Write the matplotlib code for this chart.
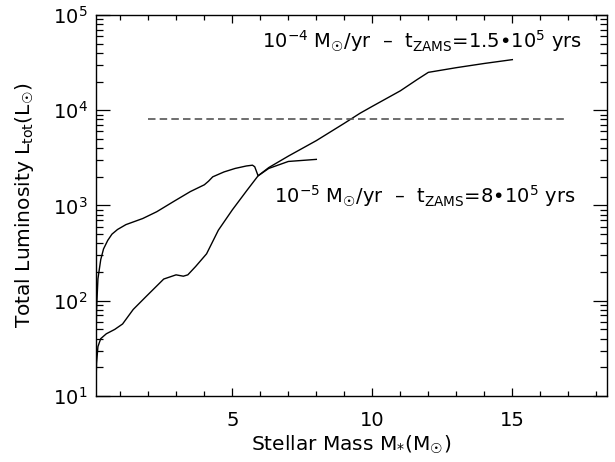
import matplotlib
matplotlib.use("Agg")
import matplotlib.pyplot as plt
from matplotlib.ticker import LogLocator, MultipleLocator, FixedLocator, NullFormatter

# track for 1e-4 Msun/yr (ends at 15 Msun)
mass_hi = [0.12, 0.13, 0.15, 0.2, 0.3, 0.4, 0.55, 0.7, 0.9, 1.2, 1.8, 2.3, 2.9,
           3.5, 4.0, 4.15, 4.3, 4.7, 5.1, 5.5, 5.72, 5.8, 5.92, 6.3, 7.0, 8.0,
           9.0, 9.56, 10.0, 11.0, 11.6, 12.0, 13.0, 14.0, 15.0]
lum_hi = [10, 30, 80, 170, 270, 350, 430, 500, 560, 630, 730, 860, 1100,
          1400, 1650, 1800, 2000, 2250, 2450, 2600, 2650, 2550, 2050, 2500, 3300, 4800,
          7300, 9300, 11000, 16000, 21000, 25000, 28000, 31000, 34000]

# track for 1e-5 Msun/yr (ends at 8 Msun)
mass_lo = [0.12, 0.15, 0.2, 0.3, 0.5, 0.8, 1.08, 1.46, 1.91, 2.55, 2.99, 3.25,
           3.41, 3.69, 4.08, 4.5, 5.0, 5.52, 5.92, 6.3, 7.0, 8.0]
lum_lo = [10, 22, 33, 40, 45, 50, 57, 81, 110, 169, 187, 181,
          187, 229, 311, 550, 900, 1440, 2050, 2450, 2900, 3050]

# horizontal reference level
ref_mass = [2.0, 17.0]
ref_lum = [8000, 8000]

SUN = "\u2609"
label_hi = "10$^{-4}$ M$_{" + SUN + "}$/yr  \u2013  t$_{ZAMS}$=1.5\u202210$^{5}$ yrs"
label_lo = "10$^{-5}$ M$_{" + SUN + "}$/yr  \u2013  t$_{ZAMS}$=8\u202210$^{5}$ yrs"

plt.rcParams["mathtext.default"] = "regular"
plt.rcParams["font.family"] = ["DejaVu Sans"]

fig = plt.figure(figsize=(6.15, 4.62), dpi=100)
ax = fig.add_axes([0.1556, 0.1429, 0.8309, 0.8246])

ax.plot(mass_hi, lum_hi, color="black", lw=1.0)
ax.plot(mass_lo, lum_lo, color="black", lw=1.0)
ax.plot(ref_mass, ref_lum, color="#555555", lw=1.2, dashes=(4.5, 2.5))

ax.set_yscale("log")
ax.set_xlim(0.12, 18.37)
ax.set_ylim(10, 1e5)

ax.xaxis.set_major_locator(FixedLocator([5, 10, 15]))
ax.xaxis.set_minor_locator(MultipleLocator(1))
ax.yaxis.set_minor_locator(LogLocator(base=10, subs=range(2, 10), numticks=20))
ax.yaxis.set_minor_formatter(NullFormatter())
ax.set_yticks([10, 100, 1000, 1e4, 1e5])
ax.set_yticklabels([r"10$^{1}$", r"10$^{2}$", r"10$^{3}$", r"10$^{4}$", r"10$^{5}$"])

ax.tick_params(axis="both", which="both", direction="in", top=True, right=True,
               width=0.9, labelsize=14)
ax.tick_params(axis="x", which="major", length=6, pad=11)
ax.tick_params(axis="x", which="minor", length=3.5)
ax.tick_params(axis="y", which="major", length=10, pad=6)
ax.tick_params(axis="y", which="minor", length=5)
for s in ax.spines.values():
    s.set_linewidth(1.0)

ax.set_xlabel("Stellar Mass M$_{*}$(M$_{" + SUN + "}$)", fontsize=14.5, va="center")
ax.xaxis.set_label_coords(0.5, -0.128)
ax.set_ylabel("Total Luminosity L$_{tot}$(L$_{" + SUN + "}$)", fontsize=14.5, va="center")
ax.yaxis.set_label_coords(-0.14, 0.5)

ax.text(6.05, 5.3e4, label_hi, fontsize=14, va="center")
ax.text(6.5, 1.25e3, label_lo, fontsize=14, va="center")

fig.savefig("out.png", dpi=100)
